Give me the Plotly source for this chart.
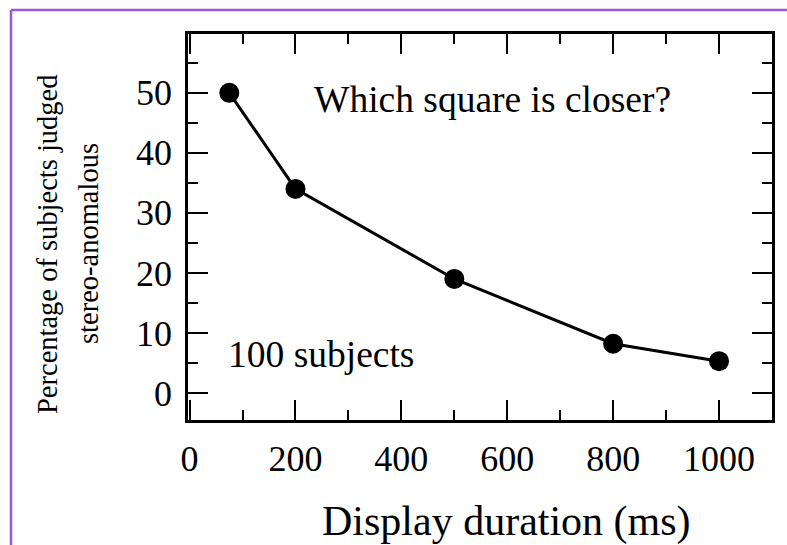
import plotly.graph_objects as go

# Display duration (ms) and percentage of subjects judged stereo-anomalous
duration_ms = [75, 200, 500, 800, 1000]
pct_anomalous = [50, 34, 19, 8.2, 5.3]

x_ticks = [0, 200, 400, 600, 800, 1000]
y_ticks = [0, 10, 20, 30, 40, 50]

FONT = "Liberation Serif, Times New Roman, serif"
W, H = 787, 545
L, R, T, B = 188, 15, 34, 125
PW, PH = W - L - R, H - T - B


def px_to_paper_x(px):
    return (px - L) / PW


def px_to_paper_y(py):
    return (H - B - py) / PH


fig = go.Figure()
fig.add_trace(go.Scatter(
    x=duration_ms, y=pct_anomalous,
    mode="lines+markers",
    line=dict(color="black", width=3),
    marker=dict(color="black", size=20),
    showlegend=False,
    hoverinfo="skip",
))

axis_common = dict(
    showline=True, linecolor="black", linewidth=2.5, mirror="allticks",
    ticks="inside", ticklen=20, tickwidth=2, tickcolor="black",
    showgrid=False, zeroline=False,
    tickfont=dict(family=FONT, size=36, color="black"),
)

fig.update_xaxes(
    range=[-3, 1100], tickmode="array", tickvals=x_ticks,
    ticktext=[str(v) for v in x_ticks],
    minor=dict(dtick=100, tick0=0, ticks="inside", ticklen=10,
               tickwidth=2, tickcolor="black"),
    ticklabelstandoff=5,
    **axis_common,
)
fig.update_yaxes(
    range=[-4.5, 59.8], tickmode="array", tickvals=y_ticks,
    ticktext=[str(v) for v in y_ticks],
    minor=dict(dtick=5, tick0=0, ticks="inside", ticklen=10,
               tickwidth=2, tickcolor="black"),
    ticklabelstandoff=6,
    **axis_common,
)

annotations = [
    dict(text="Which square is closer?", x=px_to_paper_x(492), y=px_to_paper_y(99),
         font=dict(size=37.5)),
    dict(text="100 subjects", x=px_to_paper_x(321), y=px_to_paper_y(354),
         font=dict(size=37.5)),
    dict(text="Display duration (ms)", x=px_to_paper_x(506), y=px_to_paper_y(521),
         font=dict(size=42)),
    dict(text="Percentage of subjects judged", x=px_to_paper_x(48), y=px_to_paper_y(244),
         textangle=-90, font=dict(size=28.5)),
    dict(text="stereo-anomalous", x=px_to_paper_x(89), y=px_to_paper_y(244),
         textangle=-90, font=dict(size=28.5)),
]
for a in annotations:
    a.update(xref="paper", yref="paper", showarrow=False,
             xanchor="center", yanchor="middle")
    a["font"].update(family=FONT, color="black")

# Purple frame along the top and left edges of the page
frame_color = "#9b59d3"
fig.add_shape(type="line", xref="paper", yref="paper",
              x0=px_to_paper_x(11), x1=px_to_paper_x(11),
              y0=px_to_paper_y(10), y1=px_to_paper_y(H + 5),
              line=dict(color=frame_color, width=2.5))
fig.add_shape(type="line", xref="paper", yref="paper",
              x0=px_to_paper_x(11), x1=px_to_paper_x(W + 5),
              y0=px_to_paper_y(10), y1=px_to_paper_y(10),
              line=dict(color=frame_color, width=2.5))

fig.update_layout(
    width=W, height=H,
    margin=dict(l=L, r=R, t=T, b=B),
    paper_bgcolor="white", plot_bgcolor="white",
    annotations=annotations,
    font=dict(family=FONT, color="black"),
)

fig.write_html("out.html")
